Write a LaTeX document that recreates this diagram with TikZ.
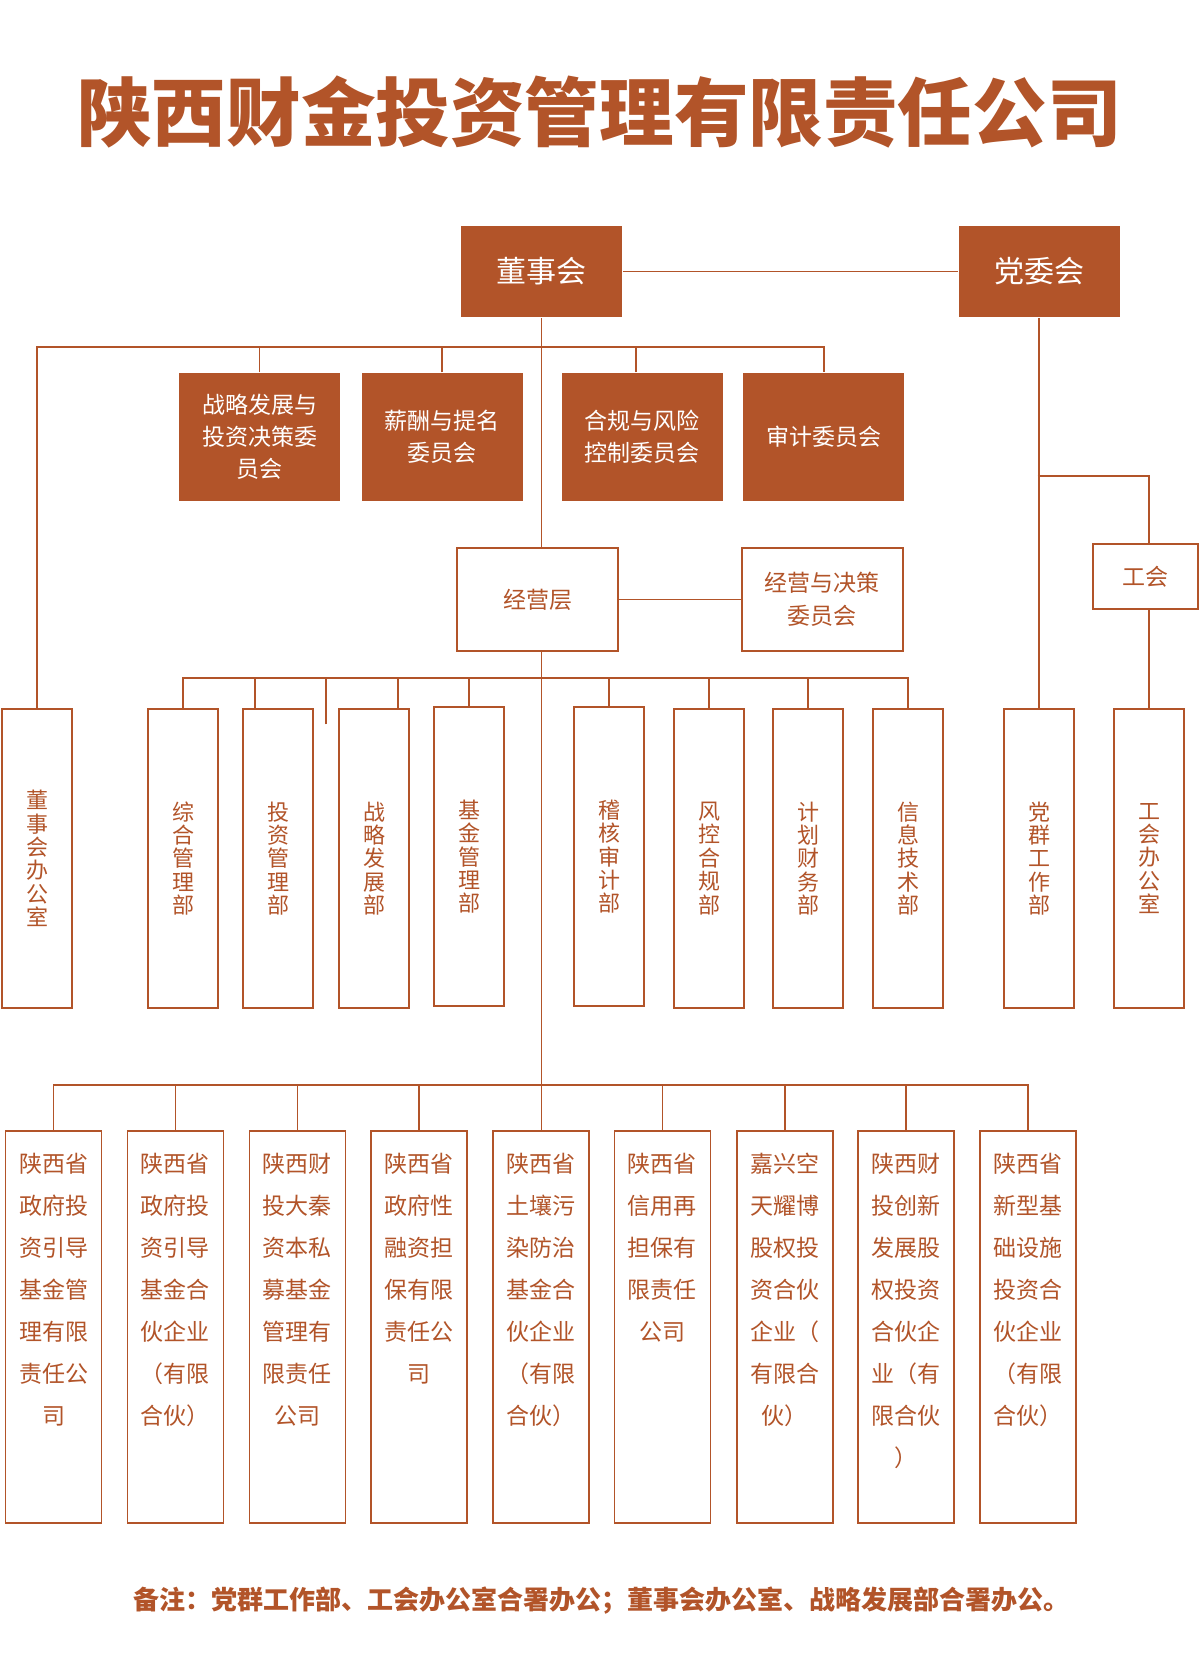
\documentclass[tikz,border=0pt]{standalone}
\usepackage{fontspec}
\setmainfont{Noto Sans CJK SC}
\usetikzlibrary{positioning}
\definecolor{rust}{RGB}{178,84,41}
\newcommand{\subname}[1]{\parbox[c][196pt][t]{48pt}{\centering\fontsize{11.5pt}{21pt}\selectfont\vspace*{11pt}#1}}

\begin{document}
\begin{tikzpicture}[x=0.5pt,y=-0.5pt,line width=0.9pt,color=rust,
	head node/.style={rectangle,fill=rust,text=white,inner sep=0pt,minimum width=80.5pt,minimum height=45.5pt,font=\fontsize{15pt}{18pt}\selectfont},
	com node/.style={rectangle,fill=rust,text=white,inner sep=0pt,minimum width=80.5pt,minimum height=63.8pt,align=center,font=\fontsize{11.5pt}{16pt}\selectfont},
	plain node/.style={rectangle,draw,inner sep=0pt,minimum width=80.5pt,minimum height=51.5pt,align=center,font=\fontsize{11.5pt}{16.3pt}\selectfont},
	dept node/.style={rectangle,draw,inner sep=0pt,minimum width=35pt,minimum height=149.5pt,align=center,font=\fontsize{11pt}{11.7pt}\selectfont},
	sub node/.style={rectangle,draw,inner sep=0pt,anchor=north west}]
	
	\fill[white] (0,0) rectangle (1200,1679);
	\useasboundingbox (0,0) rectangle (1200,1679);
	
	\node[font=\fontsize{37.3pt}{40pt}\selectfont\bfseries] (title) at (599.5,112) {陕西财金投资管理有限责任公司};
	
	\node[head node] (dsh) at (541.5,271.5) {董事会};
	\node[head node] (dwh) [right=167.5pt of dsh] {党委会};
	
	\node[com node] (cm1) at (259.5,437) {战略发展与\\投资决策委\\员会};
	\node[com node] (cm2) [right=10pt of cm1] {薪酬与提名\\委员会};
	\node[com node] (cm3) [right=18.5pt of cm2] {合规与风险\\控制委员会};
	\node[com node] (cm4) [right=9.5pt of cm3] {审计委员会};
	
	\node[plain node] (jyc) at (537.5,599.5) {经营层};
	\node[plain node] (jcwyh) [right=61pt of jyc] {经营与决策\\委员会};
	\node[plain node,minimum width=52.5pt,minimum height=32.5pt] (gh) at (1145.5,576.5) {工会};
	
	\node[dept node] (dbgs) at (37,858.5) {董\\事\\会\\办\\公\\室};
	\node[dept node] (zhglb) at (183,858.5) {综\\合\\管\\理\\部};
	\node[dept node] (tzglb) at (278,858.5) {投\\资\\管\\理\\部};
	\node[dept node] (zlfzb) at (374,858.5) {战\\略\\发\\展\\部};
	\node[dept node] (jjglb) at (469,856.7) {基\\金\\管\\理\\部};
	\node[dept node] (jhsjb) at (609,856.7) {稽\\核\\审\\计\\部};
	\node[dept node] (fkhgb) at (709,858.5) {风\\控\\合\\规\\部};
	\node[dept node] (jhcwb) at (808,858.5) {计\\划\\财\\务\\部};
	\node[dept node] (xxjsb) at (908,858.5) {信\\息\\技\\术\\部};
	\node[dept node] (dqgzb) at (1039,858.5) {党\\群\\工\\作\\部};
	\node[dept node] (ghbgs) at (1149,858.5) {工\\会\\办\\公\\室};
	
	\node[sub node] (s1) at (4.6,1130) {\subname{陕西省\\政府投\\资引导\\基金管\\理有限\\责任公\\司}};
	\node[sub node] (s2) at (126.5,1130) {\subname{陕西省\\政府投\\资引导\\基金合\\伙企业\\（有限\\合伙）}};
	\node[sub node] (s3) at (248.5,1130) {\subname{陕西财\\投大秦\\资本私\\募基金\\管理有\\限责任\\公司}};
	\node[sub node] (s4) at (370,1130) {\subname{陕西省\\政府性\\融资担\\保有限\\责任公\\司}};
	\node[sub node] (s5) at (491.8,1130) {\subname{陕西省\\土壤污\\染防治\\基金合\\伙企业\\（有限\\合伙）}};
	\node[sub node] (s6) at (613.5,1130) {\subname{陕西省\\信用再\\担保有\\限责任\\公司}};
	\node[sub node] (s7) at (735.7,1130) {\subname{嘉兴空\\天耀博\\股权投\\资合伙\\企业（\\有限合\\伙）}};
	\node[sub node] (s8) at (857,1130) {\subname{陕西财\\投创新\\发展股\\权投资\\合伙企\\业（有\\限合伙\\）}};
	\node[sub node] (s9) at (979,1130) {\subname{陕西省\\新型基\\础设施\\投资合\\伙企业\\（有限\\合伙）}};
	
	\node[font=\fontsize{13pt}{16pt}\selectfont\bfseries] (note) at (601,1601) {备注：党群工作部、工会办公室合署办公；董事会办公室、战略发展部合署办公。};
	
	\coordinate (combus) at (541.5,347);
	\coordinate (deptbus) at (541.5,677.7);
	\coordinate (subbus) at (541.5,1085);
	\coordinate (ghbus) at (1037.5,476);
	\coordinate (stub) at (326,724.3);
	
	\draw (dsh) -- (dwh);
	\draw (dsh.south) -- (dsh.south |- jyc.north);
	\draw (dbgs.north) |- (combus) -| (cm4.north);
	\draw (cm1.north) -- (cm1.north |- combus);
	\draw (cm2.north) -- (cm2.north |- combus);
	\draw ([xshift=-3pt]cm3.north) -- ([xshift=-3pt]cm3.north |- combus);
	\draw (jyc) -- (jcwyh);
	\draw (dsh.south |- jyc.south) -- (dsh.south |- s5.north);
	\draw (zhglb.north) |- (deptbus) -| (xxjsb.north);
	\draw ([xshift=-11.5pt]tzglb.north) -- ([xshift=-11.5pt]tzglb.north |- deptbus);
	\draw (stub) -- (stub |- deptbus);
	\draw ([xshift=12pt]zlfzb.north) -- ([xshift=12pt]zlfzb.north |- deptbus);
	\draw (jjglb.north) -- (jjglb.north |- deptbus);
	\draw (jhsjb.north) -- (jhsjb.north |- deptbus);
	\draw (fkhgb.north) -- (fkhgb.north |- deptbus);
	\draw (jhcwb.north) -- (jhcwb.north |- deptbus);
	\draw (s1.north) |- (subbus) -| (s9.north);
	\draw (s2.north) -- (s2.north |- subbus);
	\draw (s3.north) -- (s3.north |- subbus);
	\draw (s4.north) -- (s4.north |- subbus);
	\draw (s6.north) -- (s6.north |- subbus);
	\draw (s7.north) -- (s7.north |- subbus);
	\draw (s8.north) -- (s8.north |- subbus);
	\draw (dwh.south) -- (dwh.south |- dqgzb.north);
	\draw (ghbus) -| (ghbgs.north |- gh.north);
	\draw (ghbgs.north |- gh.south) -- (ghbgs.north);
\end{tikzpicture}
\end{document}
